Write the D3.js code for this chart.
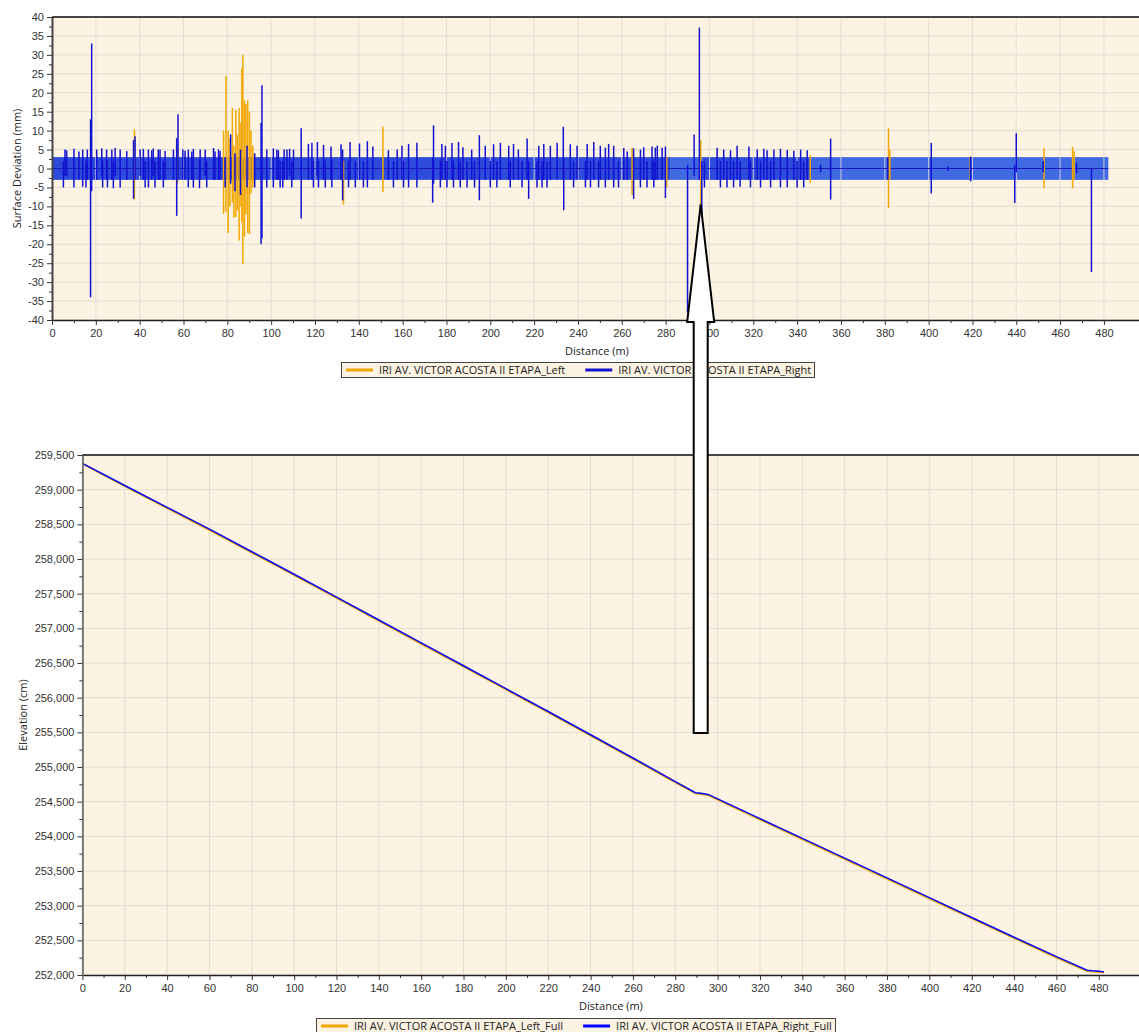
<!DOCTYPE html>
<html>
<head>
<meta charset="utf-8">
<script src="https://cdn.jsdelivr.net/npm/d3@7"></script>
<style>
  body { margin: 0; background: #fff; }
  svg { display: block; font-family: "Open Sans", "Noto Sans", sans-serif; }
  .tick text { font-size: 11px; fill: #333; }
</style>
</head>
<body>
<svg id="chart" width="1139" height="1032"></svg>
<script>
// ---- tick labels ----
const distanceTicks = [0, 20, 40, 60, 80, 100, 120, 140, 160, 180, 200, 220, 240, 260, 280, 300, 320, 340, 360, 380, 400, 420, 440, 460, 480];
const deviationTicks = [-40, -35, -30, -25, -20, -15, -10, -5, 0, 5, 10, 15, 20, 25, 30, 35, 40];
const elevationTicks = [252000, 252500, 253000, 253500, 254000, 254500, 255000, 255500, 256000, 256500, 257000, 257500, 258000, 258500, 259000, 259500];

// ---- surface deviation (mm): [distance m, high, low] excursions ----
const leftSpikes = [
  [37.6, 10.3, -8.2], [57.2, 5.5, -4], [78.3, 10, -12], [79.4, 24.5, -11.5], [80.4, 10, -17], [81.2, 8, -10],
  [82.3, 16, -9], [83, 6, -13], [83.9, 15.5, -12.8], [84.6, 9, -11], [85.4, 16, -19], [86.2, 12, -10],
  [86.6, 26.4, -14], [87.1, 30, -25.2], [87.8, 18, -18], [88.5, 17, -12], [89.3, 18, -17], [90.1, 15, -17.3],
  [90.8, 10, -6.6], [91.6, 6, -5], [92.3, 4, -4], [133, 2, -9.5], [151, 11, -6.2], [264.7, 5.5, -7],
  [280.5, 3, -5], [296, 7.5, -12.8], [346, 3.5, -3.8], [381.7, 10.6, -10.5], [382.3, 5, -3], [419, 3.2, -3],
  [452.7, 5.4, -5.2], [465.7, 5.7, -5.2], [466.4, 4.6, -3]
];
const rightSpikes = [
  [5.2, 2, -5], [5.9, 5, -2], [6.7, 4.8, -2], [10, 5.2, -5], [12.3, 4.5, -3], [14, 5, -4.8], [15.5, 2, -5], [16.1, 5, -3],
  [17.6, 13, -34], [18.1, 33, -6],
  [20.4, 5, -3], [22.7, 5.3, -2], [23.1, 2, -5], [24.9, 5, -3], [25.3, 2, -5], [27.3, 5, -3], [28, 2, -5.2], [28.8, 5.4, -2],
  [31.1, 5, -5], [34.1, 4.6, -3], [37.2, 7.5, -8], [37.9, 8.5, -3], [40.2, 5, -2], [41.7, 5.2, -3], [42.5, 2, -5], [44, 5, -5],
  [45.5, 4.8, -3], [46.2, 5.3, -2], [47, 2, -5], [48.5, 5, -3], [49.3, 5, -3], [50.8, 2, -5], [51.6, 4.6, -3],
  [55.4, 5, -3], [56.9, 8, -12.5], [57.5, 14.3, -3], [59.7, 5, -3], [60.7, 4.7, -3], [62.2, 5, -5], [63.8, 4.5, -3],
  [64.5, 5.2, -5], [67.3, 2, -5.2], [67.6, 5, -3], [69.9, 5, -2], [70.6, 2, -5], [73.7, 5.4, -3], [74.4, 4.5, -3],
  [76, 5, -3], [76.7, 4.6, -3], [79, 3, -5], [81.5, 9, -4], [83.5, 4, -6], [86, 5, -7], [89, 6, -5], [92.5, 4, -5],
  [95.4, 12, -20], [95.8, 22, -18.5], [98, 5, -5], [101, 5.3, -5], [102.6, 5, -3], [103.3, 4.8, -3], [104.1, 2, -5],
  [105.3, 2, -5], [105.9, 5, -3], [107.2, 5, -3], [108.4, 5.2, -2], [109.4, 2, -5], [110.2, 5, -3],
  [113.7, 10.6, -13.2], [117, 6.5, -3], [118.6, 6.8, -3], [119.3, 2, -5], [121.1, 7, -2], [121.6, 2, -5], [123.9, 6.2, -3],
  [124.7, 2, -5], [127.3, 5.8, -3], [127.7, 2, -5], [131.9, 6.4, -3], [132.6, 5, -8.4], [135.3, 2, -5], [136, 7, -3],
  [138.4, 2, -5], [140.3, 6.6, -3], [142.1, 2, -5], [143.9, 7.2, -5], [146.4, 5.8, -3], [153.5, 4.8, -3], [155.8, 2, -5],
  [157.5, 5, -3], [159.7, 6, -3], [160.4, 2, -5], [162.7, 6.5, -5], [166.5, 6.8, -5], [173.7, 3, -9], [174.1, 11.4, -4],
  [177.2, 2, -5], [177.9, 6.5, -3], [179.5, 6, -3], [180.2, 2, -5], [182.5, 6.7, -3], [183.2, 2, -5], [185.5, 7, -3],
  [186.3, 2, -5], [187.5, 5.6, -3], [189.4, 2, -5], [191.5, 5, -3], [192.8, 2, -5], [195, 8.8, -8.4], [197.7, 6, -3],
  [200, 2, -5], [201.5, 6.4, -3], [203, 2, -5], [204.6, 6.8, -3], [208.4, 6, -3], [209.1, 2, -5], [210.6, 6.5, -3],
  [212.8, 5, -3], [214.5, 2, -5], [216.8, 7.9, -3], [217.5, 2, -8], [221.3, 2, -5], [222.1, 6, -3], [223.6, 2, -5],
  [224.4, 6.5, -3], [225.9, 2, -5], [227.4, 6, -3], [230.5, 6.8, -3], [233.3, 11, -3], [233.5, 3, -11], [236.5, 6.4, -3],
  [238, 2, -5], [239.6, 6, -3], [243.4, 2, -5], [244.2, 6.5, -3], [245.7, 2, -5], [247.2, 7, -3], [249.4, 2, -5],
  [250.2, 6, -3], [252.5, 5.5, -5], [254, 6.5, -3], [256.3, 6, -5], [258.5, 2, -5], [260.9, 5.4, -3], [262.5, 4.5, -3],
  [265.4, 5.3, -8], [268.5, 5, -5], [270, 5.6, -3], [271.5, 2, -5], [273.8, 5.8, -3], [274.6, 2, -5], [275.3, 5.5, -3],
  [276.2, 6, -3], [278.4, 5.5, -3], [279.9, 5.8, -7.8],
  [290, 1, -38], [293, 9, -2], [295.4, 37.2, -3], [296.5, 2, -12.8], [297.7, 2, -5],
  [303.5, 5.5, -3], [305, 2, -5], [306.5, 5, -3], [308, 2, -5], [309.6, 4.8, -3], [311, 2, -5], [312.6, 6, -3],
  [314, 2, -4.8], [318, 5.8, -3], [318.7, 2, -5], [321.8, 5, -3], [323.3, 2, -5], [324.8, 5.2, -3], [326.3, 4.8, -3],
  [327.9, 2, -5], [329.4, 5, -3], [332.4, 5.2, -5], [335.5, 4.9, -5], [338.5, 4.7, -3], [340, 2, -5], [341.6, 5, -3],
  [343, 2, -5], [344.6, 4.8, -3],
  [350.7, 1, -1], [355.3, 7.9, -8.2], [381.4, 3, -3], [401.2, 6.7, -6.6], [409, 0.6, -0.6], [419.2, 3.1, -3.4],
  [439.3, 1, -9.1], [440, 9.3, -1], [452.3, 2, -1], [467.5, 1.5, -1.2], [474.3, 0, -27.3]
];
// right-series oscillation envelope (+/- mm) and its stretches: [from, to, dense]
const bandLimit = 3;
const bandSegments = [[0, 282, 1], [282, 297, 0], [297, 346, 1], [346, 482, 0]];

// ---- elevation profile (cm) ----
const elevDist = [0, 20, 40, 60, 80, 100, 120, 140, 160, 180, 200, 220, 240, 260, 280, 289.5, 292, 295.5, 300, 320, 340, 360, 380, 400, 420, 440, 460, 474.5, 477, 480, 482.5];
const elevRight = [259380, 259060, 258745, 258430, 258105, 257780, 257450, 257120, 256790, 256460, 256130, 255800, 255465, 255130, 254790, 254630, 254620, 254605, 254540, 254255, 253970, 253685, 253400, 253115, 252830, 252545, 252265, 252070, 252060, 252055, 252045];
const elevLeft = [259372, 259048, 258730, 258414, 258090, 257764, 257436, 257105, 256775, 256444, 256116, 255786, 255450, 255116, 254776, 254618, 254608, 254592, 254527, 254240, 253955, 253670, 253385, 253100, 252814, 252530, 252250, 252055, 252046, 252042, 252035];

const seriesTop = ["IRI AV. VICTOR ACOSTA II ETAPA_Left", "IRI AV. VICTOR ACOSTA II ETAPA_Right"];
const seriesBottom = ["IRI AV. VICTOR ACOSTA II ETAPA_Left_Full", "IRI AV. VICTOR ACOSTA II ETAPA_Right_Full"];

const ORANGE = "#f2a700", BLUE = "#1212d2";
const BG = "#fcf3e3", GRID = "#e1dcd5";

const svg = d3.select("#chart");

// minor ticks halfway between major ones
function midpoints(arr) {
  return arr.slice(1).map((v, i) => (v + arr[i]) / 2);
}

function frame(x, y, xTicks, yTicks, yFmt) {
  const [x0, x1] = x.range(), [y0, y1] = [y.range()[1], y.range()[0]];
  svg.append("rect").attr("x", x0).attr("y", y0).attr("width", x1 - x0).attr("height", y1 - y0).attr("fill", BG);
  const g = svg.append("g");
  g.selectAll(".hg").data(yTicks).enter().append("line")
    .attr("x1", x0).attr("x2", x1).attr("y1", d => y(d)).attr("y2", d => y(d))
    .attr("stroke", GRID).attr("stroke-width", 1);
  return { x0, x1, y0, y1, yFmt, xTicks, yTicks };
}

function vgrid(x, y, xTicks, opacity) {
  const [y0, y1] = [y.range()[1], y.range()[0]];
  svg.append("g").selectAll("line").data(xTicks.slice(1)).enter().append("line")
    .attr("x1", d => x(d)).attr("x2", d => x(d)).attr("y1", y0).attr("y2", y1)
    .attr("stroke", GRID).attr("stroke-opacity", opacity).attr("stroke-width", 1);
}

function axes(x, y, xTicks, yTicks, yFmt, yAxisColor) {
  const [x0, x1] = x.range(), [y0, y1] = [y.range()[1], y.range()[0]];
  const xa = svg.append("g").attr("transform", `translate(0,${y1})`)
    .call(d3.axisBottom(x).tickValues(xTicks).tickSize(5).tickSizeOuter(0).tickPadding(4).tickFormat(d3.format("d")));
  svg.append("g").attr("transform", `translate(0,${y1})`)
    .call(d3.axisBottom(x).tickValues(midpoints(xTicks)).tickSize(3).tickSizeOuter(0).tickFormat(""))
    .select(".domain").remove();
  xa.select(".domain").attr("stroke", "#222").attr("stroke-width", 1.5);
  const ya = svg.append("g").attr("transform", `translate(${x0},0)`)
    .call(d3.axisLeft(y).tickValues(yTicks).tickSize(5).tickSizeOuter(0).tickPadding(3).tickFormat(yFmt));
  svg.append("g").attr("transform", `translate(${x0},0)`)
    .call(d3.axisLeft(y).tickValues(midpoints(yTicks)).tickSize(3).tickSizeOuter(0).tickFormat(""))
    .select(".domain").remove();
  ya.select(".domain").attr("stroke", yAxisColor).attr("stroke-width", 2);
  svg.selectAll(".tick line").attr("stroke", "#333");
  // top border
  svg.append("line").attr("x1", x0).attr("x2", x1).attr("y1", y0).attr("y2", y0)
    .attr("stroke", "#111").attr("stroke-width", 1.5);
}

function legend(x, y, w, names, colors) {
  const g = svg.append("g").attr("transform", `translate(${x},${y})`);
  g.append("rect").attr("x", 0.5).attr("y", 0.5).attr("width", w).attr("height", 15)
    .attr("fill", BG).attr("stroke", "#444").attr("stroke-width", 1);
  let cx = 5;
  names.forEach((n, i) => {
    g.append("line").attr("x1", cx).attr("x2", cx + 27).attr("y1", 8).attr("y2", 8)
      .attr("stroke", colors[i]).attr("stroke-width", 3);
    const t = g.append("text").attr("x", cx + 33).attr("y", 12).attr("font-size", 11).attr("fill", "#222").text(n);
    cx += 33 + t.node().getComputedTextLength() + 20;
  });
}

// ================= top chart: surface deviation =================
const xTop = d3.scaleLinear().domain([0, 496]).range([52, 1139]);
const yTop = d3.scaleLinear().domain([-40, 40]).range([320, 17]);
frame(xTop, yTop, distanceTicks, deviationTicks);

svg.append("g").selectAll("rect").data(bandSegments).enter().append("rect")
  .attr("x", d => xTop(d[0])).attr("width", d => xTop(d[1]) - xTop(d[0]))
  .attr("y", yTop(bandLimit)).attr("height", yTop(-bandLimit) - yTop(bandLimit))
  .attr("fill", d => d[2] ? "#2f4bdb" : "#4169e1");
vgrid(xTop, yTop, distanceTicks, 0.85);

// centre line of the right series
svg.append("line").attr("x1", xTop(0)).attr("x2", xTop(482)).attr("y1", yTop(0)).attr("y2", yTop(0))
  .attr("stroke", "#1a1ab8").attr("stroke-width", 1);

svg.append("g").selectAll("line").data(leftSpikes).enter().append("line")
  .attr("x1", d => xTop(d[0])).attr("x2", d => xTop(d[0]))
  .attr("y1", d => yTop(d[1])).attr("y2", d => yTop(d[2]))
  .attr("stroke", ORANGE).attr("stroke-width", 1.5);
svg.append("g").selectAll("line").data(rightSpikes).enter().append("line")
  .attr("x1", d => xTop(d[0])).attr("x2", d => xTop(d[0]))
  .attr("y1", d => yTop(d[1])).attr("y2", d => yTop(d[2]))
  .attr("stroke", BLUE).attr("stroke-width", 1.5);

axes(xTop, yTop, distanceTicks, deviationTicks, d => String(d), "#444");

svg.append("text").attr("transform", `translate(21,${(17 + 320) / 2}) rotate(-90)`)
  .attr("text-anchor", "middle").attr("font-size", 11).attr("fill", "#222").text("Surface Deviation (mm)");
svg.append("text").attr("x", 597).attr("y", 355).attr("text-anchor", "middle")
  .attr("font-size", 11).attr("fill", "#222").text("Distance (m)");
legend(341, 362, 473, seriesTop, [ORANGE, BLUE]);

// ================= bottom chart: elevation =================
const xBot = d3.scaleLinear().domain([0, 499]).range([82.4, 1139]);
const yBot = d3.scaleLinear().domain([252000, 259500]).range([975, 455]);
frame(xBot, yBot, distanceTicks, elevationTicks);
vgrid(xBot, yBot, distanceTicks, 1);

const line = d3.line().x(d => xBot(d[0])).y(d => yBot(d[1]));
svg.append("path").datum(elevDist.map((d, i) => [d, elevLeft[i]]))
  .attr("d", line).attr("fill", "none").attr("stroke", ORANGE).attr("stroke-width", 1.6);
svg.append("path").datum(elevDist.map((d, i) => [d, elevRight[i]]))
  .attr("d", line).attr("fill", "none").attr("stroke", "#0000ff").attr("stroke-width", 1.5);

axes(xBot, yBot, distanceTicks, elevationTicks, d3.format(","), "#777");

svg.append("text").attr("transform", `translate(27,${(455 + 975) / 2}) rotate(-90)`)
  .attr("text-anchor", "middle").attr("font-size", 11).attr("fill", "#222").text("Elevation (cm)");
svg.append("text").attr("x", 611).attr("y", 1010).attr("text-anchor", "middle")
  .attr("font-size", 11).attr("fill", "#222").text("Distance (m)");
legend(316, 1018, 519, seriesBottom, [ORANGE, "#0000ff"]);

// ================= annotation arrow =================
const arrowNote = { dist: 296, tipDev: -9.5, tailElev: 255490 };
const ax = xTop(arrowNote.dist), tipY = yTop(arrowNote.tipDev);
const headY = yTop(-40) + 2, tailY = yBot(arrowNote.tailElev);
svg.append("polygon")
  .attr("points", [[ax, tipY], [ax + 13.5, headY], [ax + 7, headY], [ax + 7, tailY], [ax - 7, tailY], [ax - 7, headY], [ax - 13.5, headY]].join(" "))
  .attr("fill", "#fff").attr("stroke", "#000").attr("stroke-width", 2);
</script>
</body>
</html>
